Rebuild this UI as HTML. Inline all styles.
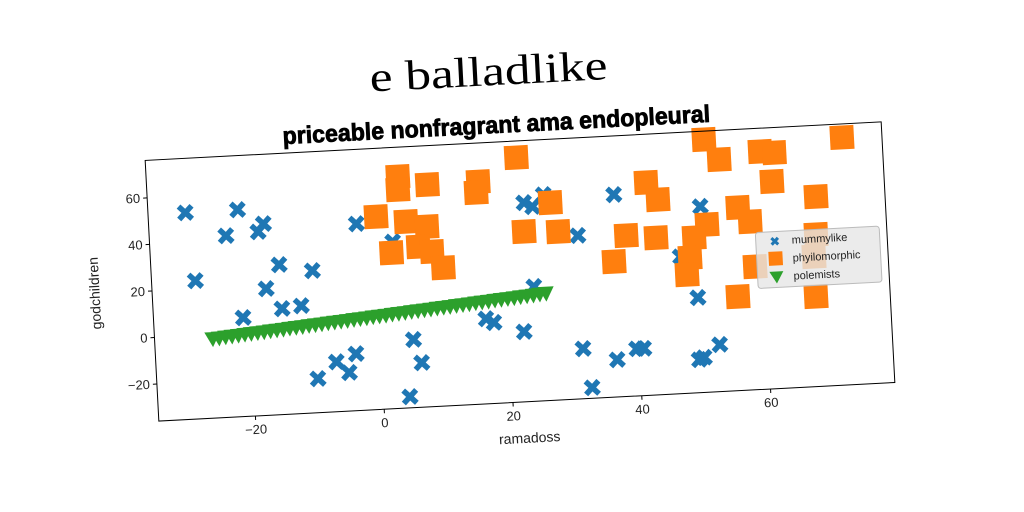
<!DOCTYPE html>
<html><head><meta charset="utf-8"><style>
html,body{margin:0;padding:0;background:#fff;}
svg{display:block;font-family:"Liberation Sans",sans-serif;}
</style></head><body>
<svg id="chart" width="1024" height="512" viewBox="0 0 1024 512">
<g transform="translate(-1,0) rotate(-3,520,271.5)" id="plot">
  <text x="500" y="84" font-family="Liberation Serif, serif" font-size="42" text-anchor="middle" textLength="238" lengthAdjust="spacingAndGlyphs" fill="#000">e balladlike</text>
  <text x="505" y="132" font-size="24" font-weight="bold" text-anchor="middle" textLength="428" lengthAdjust="spacingAndGlyphs" fill="#000" stroke="#000" stroke-width="0.8">priceable nonfragrant ama endopleural</text>
  <g id="marks"></g>
  <rect x="152.5" y="141" width="737" height="261" fill="none" stroke="#000" stroke-width="1"/>
  <g id="ticks"></g>
  <text x="522" y="443" font-size="14" text-anchor="middle" fill="#222">ramadoss</text>
  <text transform="translate(100,271) rotate(-90)" font-size="14" text-anchor="middle" fill="#222">godchildren</text>
  <g>
    <rect x="758" y="245" width="124" height="56" rx="3" fill="#e6e6e6" fill-opacity="0.8" stroke="#bbb"/>
    <g>
      <text x="777" y="259" font-size="12" text-anchor="middle" fill="#1f77b4" font-weight="bold">✖</text>
      <text x="794" y="258" font-size="11" fill="#222">mummylike</text>
    </g>
    <g>
      <rect x="770" y="265" width="14" height="14" fill="#ff7f0e"/>
      <text x="794" y="276" font-size="11" fill="#222">phyilomorphic</text>
    </g>
    <g>
      <polygon points="770,285 784,285 777,297" fill="#2ca02c"/>
      <text x="794" y="294" font-size="11" fill="#222">polemists</text>
    </g>
  </g>
</g>
</svg>
<script>
const xTicks = [-20, 0, 20, 40, 60];
const yTicks = [-20, 0, 20, 40, 60];
const blueX = [-29.2,-21.1,-23.1,-18.1,-17.2,-28.2,-15.1,-10,-17.3,-15,-12,-21.1,-2.8,2.7,5.1,6.2,-3.9,-7,-5.1,-10,4.1,17.7,16.5,22.3,24.2,23.3,24.6,26.4,31.4,37.3,31.3,32.4,36.5,39.6,40.7,47.1,50.6,49.5,50,52.5,49.2];
const blueY = [52.8,52.9,42,43,46.3,23.4,28.4,25.1,18.4,9.5,10.3,6.5,44.2,35.7,-6.7,-16.8,-11.5,-14.5,-19.4,-21.3,-31.1,-1.2,0.6,-5.8,13.3,49.5,47.6,52.5,34.2,50.9,-14.4,-31.3,-19.9,-15.6,-15.7,22.9,43.9,4.9,-20.9,-15.7,-21.7];
const orangeX = [4,3.9,8.5,16.4,16,22.5,0.3,4.9,8.1,2.4,6.6,8.7,10.3,23.1,28.4,27.4,38.9,43.5,36.8,42.4,44.1,51.7,53.9,60.3,62.5,61.9,73.1,68.6,56.4,58.2,51.5,49.4,48.6,48,58.6,55.7,67.8,68.3,67.8];
const orangeY = [63.5,57.9,59.4,59.5,54.9,69,46.8,44,41.4,31,33,30.6,23.4,37.1,36.3,48.9,33.1,31.5,22.2,55.4,47.8,72.5,63.6,66.1,65.3,53,70.3,45.5,42.6,36.3,36,30.7,22.2,15,16.9,4.4,2.7,29.3,19.9];
const greenX = [-26,-25,-24,-23,-22,-21,-20,-19,-18,-17,-16,-15,-14,-13,-12,-11,-10,-9,-8,-7,-6,-5,-4,-3,-2,-1,0,1,2,3,4,5,6,7,8,9,10,11,12,13,14,15,16,17,18,19,20,21,22,23,24,25,26];
const greenY = [-2.0,-1.8,-1.5,-1.3,-1.1,-0.8,-0.6,-0.4,-0.2,0.1,0.3,0.5,0.8,1.0,1.2,1.5,1.7,1.9,2.2,2.4,2.6,2.8,3.1,3.3,3.5,3.8,4.0,4.2,4.5,4.7,4.9,5.2,5.4,5.6,5.8,6.1,6.3,6.5,6.8,7.0,7.2,7.5,7.7,7.9,8.2,8.4,8.6,8.8,9.1,9.3,9.5,9.8,10.0];

const X0=-35, X1=79.3, Y0=-35.9, Y1=76.1;
const L=152.5, R=889.5, T=141, B=402;
function sx(v){return L+(v-X0)/(X1-X0)*(R-L);}
function sy(v){return B-(v-Y0)/(Y1-Y0)*(B-T);}
const NS='http://www.w3.org/2000/svg';
const marks=document.getElementById('marks');
const ticks=document.getElementById('ticks');

function mk(tag,attrs,parent){const e=document.createElementNS(NS,tag);for(const k in attrs)e.setAttribute(k,attrs[k]);parent.appendChild(e);return e;}

xTicks.forEach(function(t){
  const g=mk('g',{},ticks);
  
  
  mk('line',{x1:sx(t),x2:sx(t),y1:B,y2:B+4,stroke:'#000'},g);
  const tx=mk('text',{x:sx(t),y:B+18,'font-size':13,'text-anchor':'middle',fill:'#222'},g);
  tx.textContent=t<0?'\u2212'+Math.abs(t):String(t);
});
yTicks.forEach(function(t){
  const g=mk('g',{},ticks);
  
  
  mk('line',{x1:L-4,x2:L,y1:sy(t),y2:sy(t),stroke:'#000'},g);
  const tx=mk('text',{x:L-7,y:sy(t)+4.5,'font-size':13,'text-anchor':'end',fill:'#222'},g);
  tx.textContent=t<0?'\u2212'+Math.abs(t):String(t);
});

blueX.forEach(function(v,i){
  const cx=sx(v), cy=sy(blueY[i]), s=6.5;
  const p=mk('path',{d:'M'+(cx-s)+' '+(cy-s)+'L'+(cx+s)+' '+(cy+s)+'M'+(cx+s)+' '+(cy-s)+'L'+(cx-s)+' '+(cy+s),stroke:'#1f77b4','stroke-width':5.5,'stroke-linecap':'butt'},marks);
  
  
});
orangeX.forEach(function(v,i){
  const cx=sx(v), cy=sy(orangeY[i]), s=12;
  const r=mk('rect',{x:cx-s,y:cy-s,width:2*s,height:2*s,fill:'#ff7f0e'},marks);
  
  
});
greenX.forEach(function(v,i){
  const cx=sx(v), cy=sy(greenY[i]);
  const p=mk('polygon',{points:(cx-8)+','+(cy-7)+' '+(cx+8)+','+(cy-7)+' '+cx+','+(cy+8),fill:'#2ca02c'},marks);
  
  
});
</script>
</body></html>
